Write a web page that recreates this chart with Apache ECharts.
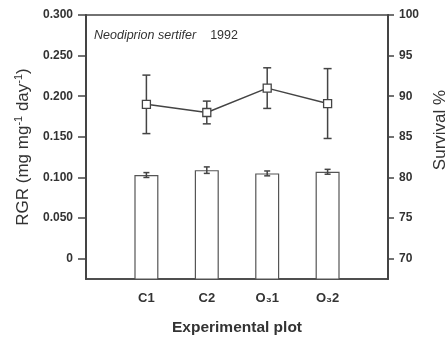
<!DOCTYPE html>
<html><head><meta charset="utf-8">
<script src="https://cdn.jsdelivr.net/npm/echarts@6/dist/echarts.min.js"></script>
<style>html,body{margin:0;padding:0;background:#fff}#c{width:448px;height:339px}</style>
</head><body><div id="c"></div>
<script>
const categories = ['C1', 'C2', 'O₃1', 'O₃2'];
const rgr = [0.190, 0.180, 0.210, 0.191];
const rgrErr = [0.036, 0.014, 0.025, 0.043];
const survival = [80.3, 80.9, 80.5, 80.7];
const survivalErr = [0.3, 0.4, 0.3, 0.3];
const leftTicks = [0, 0.05, 0.1, 0.15, 0.2, 0.25, 0.3];
const rightTicks = [70, 75, 80, 85, 90, 95, 100];

const xCats = [''].concat(categories, ['']);
const pad = a => [null].concat(a, [null]);
const ink = '#444';
const font = 'Liberation Sans, Arial, sans-serif';

function errSeries(vals, errs, yIdx, cap, z) {
  return {
    type: 'custom', yAxisIndex: yIdx, z: z, silent: true,
    data: vals.map((v, i) => [i + 1, v - errs[i], v + errs[i]]),
    renderItem: (params, api) => {
      const x = api.value(0);
      const lo = api.coord([x, api.value(1)]);
      const hi = api.coord([x, api.value(2)]);
      const st = { stroke: ink, lineWidth: 1.5 };
      return { type: 'group', children: [
        { type: 'line', shape: { x1: lo[0], y1: lo[1], x2: hi[0], y2: hi[1] }, style: st },
        { type: 'line', shape: { x1: lo[0] - cap, y1: lo[1], x2: lo[0] + cap, y2: lo[1] }, style: st },
        { type: 'line', shape: { x1: hi[0] - cap, y1: hi[1], x2: hi[0] + cap, y2: hi[1] }, style: st }
      ]};
    }
  };
}

const chart = echarts.init(document.getElementById('c'));
chart.setOption({
  backgroundColor: '#fff',
  animation: false,
  title: {
    left: 89, top: 24,
    text: '{i|Neodiprion sertifer}{n|1992}',
    textStyle: { fontWeight: 'normal', rich: {
      i: { fontStyle: 'italic', fontWeight: 'normal', fontSize: 12.5, color: '#333', fontFamily: font },
      n: { fontWeight: 'normal', fontSize: 12.5, color: '#333', fontFamily: font, padding: [0, 0, 0, 14] }
    }}
  },
  grid: { left: 86, right: 60, top: 15, bottom: 60, outerBoundsMode: 'none', containLabel: false,
    show: true, borderColor: ink, borderWidth: 1.5, backgroundColor: 'transparent' },
  xAxis: {
    type: 'category', data: xCats, boundaryGap: false,
    axisLine: { onZero: false, lineStyle: { color: ink, width: 1.5 } },
    axisTick: { show: false },
    axisLabel: { color: '#333', fontSize: 13, fontWeight: 'bold', fontFamily: font, margin: 13, interval: 0 },
    name: 'Experimental plot', nameLocation: 'middle', nameGap: 41,
    nameTextStyle: { color: '#333', fontSize: 15.5, fontWeight: 'bold', fontFamily: font }
  },
  yAxis: [{
    type: 'value', min: -0.025, max: 0.3, position: 'left',
    splitLine: { show: false },
    axisLine: { show: true, lineStyle: { color: ink, width: 2 } },
    axisTick: { show: true, length: 8, lineStyle: { color: ink, width: 1.5 }, customValues: leftTicks },
    axisLabel: { color: '#333', fontSize: 12, fontWeight: 'bold', fontFamily: font, margin: 13,
      customValues: leftTicks, formatter: v => v === 0 ? '0' : v.toFixed(3) },
    name: '{t|RGR (mg mg}{s|-1}{t| day}{s|-1}{t|)}', nameLocation: 'middle', nameGap: 51,
    nameTextStyle: { rich: {
      t: { fontSize: 17, color: '#333', fontFamily: font },
      s: { fontSize: 11, color: '#333', fontFamily: font, verticalAlign: 'bottom', padding: [0, 0, 9, 0] }
    }}
  }, {
    type: 'value', min: 67.5, max: 100, position: 'right',
    splitLine: { show: false },
    axisLine: { show: true, lineStyle: { color: ink, width: 2 } },
    axisTick: { show: true, length: 6, lineStyle: { color: ink, width: 1.5 }, customValues: rightTicks },
    axisLabel: { color: '#333', fontSize: 12, fontWeight: 'bold', fontFamily: font, margin: 11, customValues: rightTicks },
    name: 'Survival %', nameLocation: 'middle', nameGap: 44,
    nameTextStyle: { color: '#333', fontSize: 17, fontFamily: font, padding: [0, 0, 0, 34] }
  }],
  series: [
    { type: 'bar', yAxisIndex: 1, data: pad(survival), barWidth: 24, z: 2,
      itemStyle: { color: '#fff', borderColor: '#555', borderWidth: 1.2 } },
    errSeries(survival, survivalErr, 1, 3, 3),
    errSeries(rgr, rgrErr, 0, 4, 3),
    { type: 'line', yAxisIndex: 0, data: pad(rgr), z: 4, connectNulls: false,
      symbol: 'rect', symbolSize: 8, showAllSymbol: true,
      lineStyle: { color: ink, width: 1.5 },
      itemStyle: { color: '#fff', borderColor: ink, borderWidth: 1.3 } }
  ]
});
</script></body></html>
